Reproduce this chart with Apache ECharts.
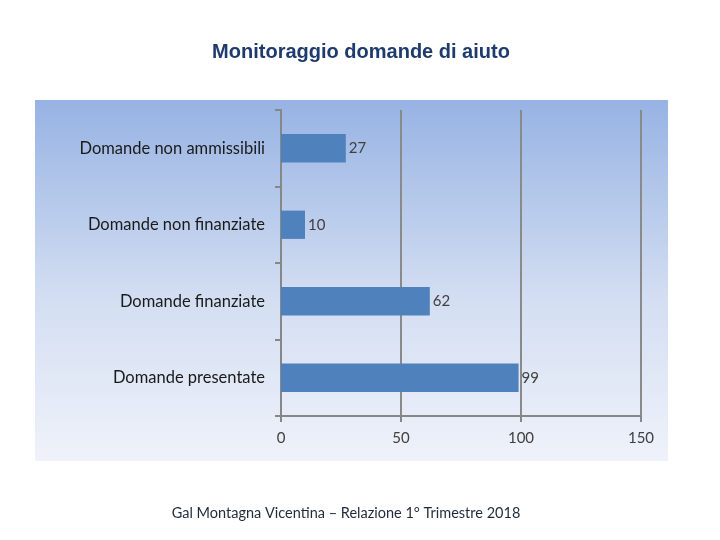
<!DOCTYPE html>
<html><head><meta charset="utf-8">
<script src="https://cdn.jsdelivr.net/npm/echarts@6/dist/echarts.min.js"></script>
<style>html,body{margin:0;padding:0;background:#fff}#c{width:720px;height:540px}</style>
</head><body><div id="c"></div>
<script>
const categories = ['Domande presentate', 'Domande finanziate', 'Domande non finanziate', 'Domande non ammissibili'];
const values = [99, 62, 10, 27];
const xTicks = [0, 50, 100, 150];
const titleText = 'Monitoraggio domande di aiuto';
const footerText = 'Gal Montagna Vicentina \u2013 Relazione 1\u00b0 Trimestre 2018';

const chart = echarts.init(document.getElementById('c'), null, {renderer: 'canvas'});
const font = 'Lato, "Open Sans", sans-serif';
chart.setOption({
  animation: false,
  backgroundColor: '#ffffff',
  graphic: [
    {type: 'rect', z: -10, shape: {x: 35, y: 100, width: 633, height: 361},
     style: {fill: new echarts.graphic.LinearGradient(0, 0, 0, 1, [
       {offset: 0, color: '#97b3e3'}, {offset: 0.55, color: '#d3def2'}, {offset: 1, color: '#eff2fa'}])}},
    {type: 'text', x: 361, y: 52,
     style: {text: titleText, font: 'bold 20px "Liberation Sans", Arial, sans-serif', fill: '#1f3b6e', textAlign: 'center', textVerticalAlign: 'middle'}},
    {type: 'text', x: 346, y: 513,
     style: {text: footerText, font: '14.5px ' + font, fill: '#1f2a3a', textAlign: 'center', textVerticalAlign: 'middle'}}
  ],
  grid: {left: 281, right: 79, top: 110, bottom: 124, containLabel: false},
  xAxis: {
    type: 'value', min: 0, max: 150, interval: 50,
    axisLine: {show: true, lineStyle: {color: '#878787', width: 2}},
    axisTick: {show: true, length: 6, lineStyle: {color: '#878787', width: 2}},
    axisLabel: {margin: 15, fontSize: 15, color: '#404040', fontFamily: font},
    splitLine: {show: true, lineStyle: {color: '#8a8a8a', width: 2}}
  },
  yAxis: {
    type: 'category', data: categories,
    axisLine: {show: true, lineStyle: {color: '#878787', width: 2}},
    axisTick: {show: true, length: 6, lineStyle: {color: '#878787', width: 2}},
    axisLabel: {margin: 16, fontSize: 16.5, color: '#1a1a1a', fontFamily: font},
    splitLine: {show: false}
  },
  series: [{
    type: 'bar', data: values, barWidth: '37%',
    itemStyle: {color: '#4f81bd'},
    label: {show: true, position: 'right', distance: 3, fontSize: 15, color: '#404040', fontFamily: font}
  }]
});
</script></body></html>
